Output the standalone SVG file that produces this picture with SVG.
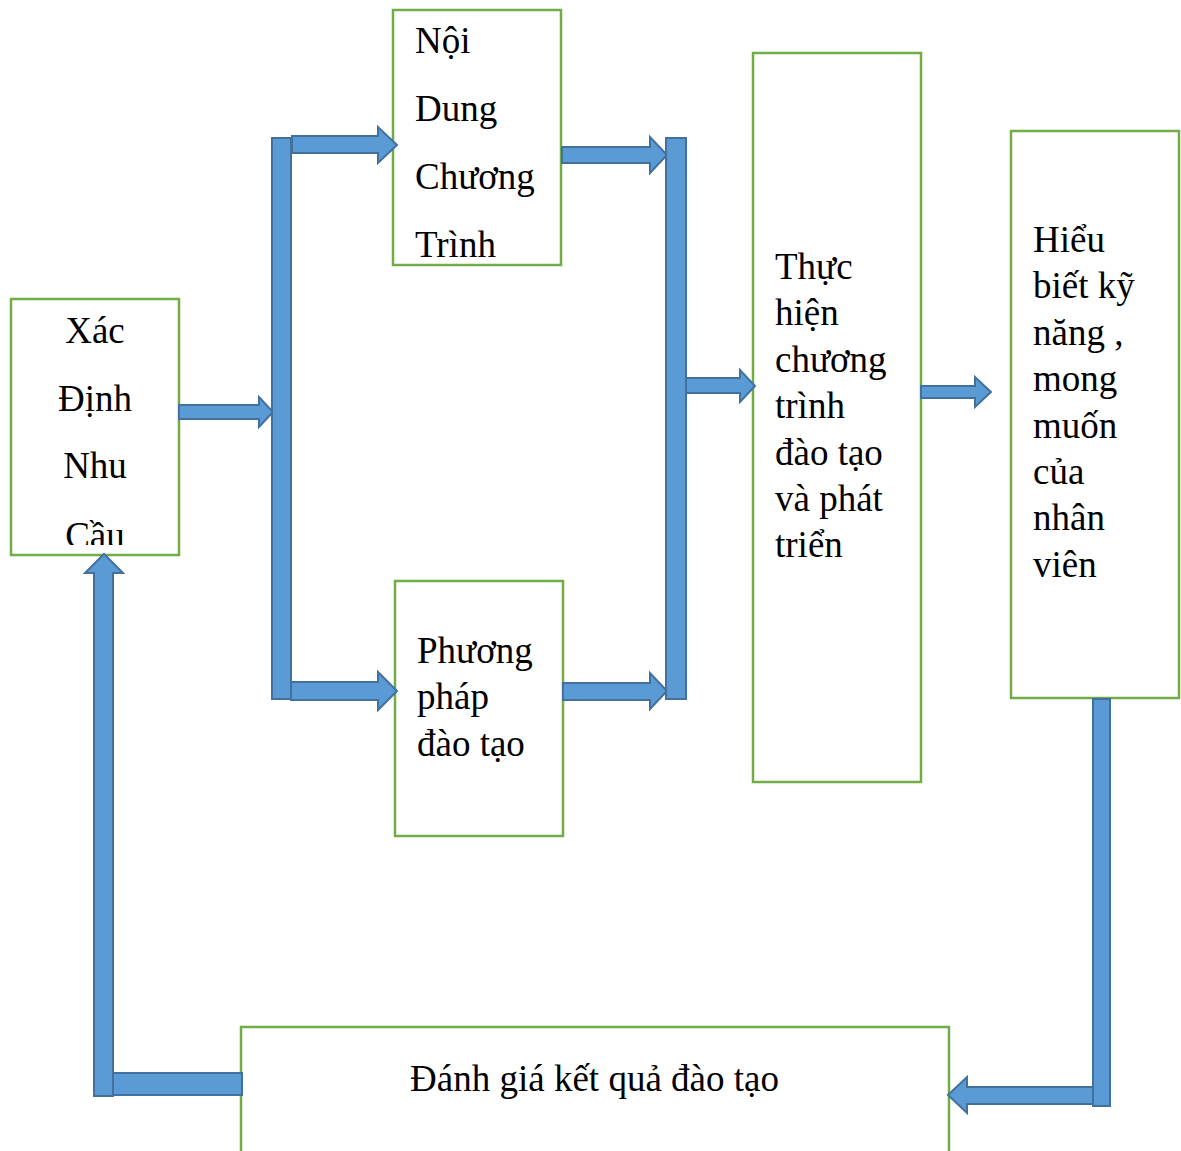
<svg xmlns="http://www.w3.org/2000/svg" width="1181" height="1151" viewBox="0 0 1181 1151">
<style>
.box{fill:#FFFFFF;stroke:#70AD47;stroke-width:2.5}
.t{font-family:"Liberation Serif","Times New Roman","DejaVu Serif",serif;font-size:37px;fill:#000000}
.c{text-anchor:middle}
.arr{fill:#5B9BD5;stroke:#41719C;stroke-width:2;stroke-linejoin:miter}
</style>
<defs>
<clipPath id="clipXac"><rect x="11" y="299" width="168" height="246"/></clipPath>
<clipPath id="clipNoi"><rect x="393" y="10" width="168" height="248"/></clipPath>
</defs>
<rect width="1181" height="1151" fill="#FFFFFF"/>
<g id="node-xac-dinh">
<rect class="box" x="11" y="299" width="168" height="256"/>
<g clip-path="url(#clipXac)">
<text class="t c" x="95" y="343">Xác</text>
<text class="t c" x="95" y="410.5">Định</text>
<text class="t c" x="95" y="478">Nhu</text>
<text class="t c" x="95" y="548">Cầu</text>
</g>
</g>
<g id="node-noi-dung">
<rect class="box" x="393" y="10" width="168" height="255"/>
<g clip-path="url(#clipNoi)">
<text class="t" x="415" y="53">Nội</text>
<text class="t" x="415" y="121">Dung</text>
<text class="t" x="415" y="189">Chương</text>
<text class="t" x="415" y="257">Trình</text>
</g>
</g>
<g id="node-phuong-phap">
<rect class="box" x="395" y="581" width="168" height="255"/>
<text class="t" x="417" y="663">Phương</text>
<text class="t" x="417" y="709">pháp</text>
<text class="t" x="417" y="756">đào tạo</text>
</g>
<g id="node-thuc-hien">
<rect class="box" x="753" y="53" width="168" height="729"/>
<text class="t" x="775" y="279">Thực</text>
<text class="t" x="775" y="325.4">hiện</text>
<text class="t" x="775" y="371.8">chương</text>
<text class="t" x="775" y="418.2">trình</text>
<text class="t" x="775" y="464.6">đào tạo</text>
<text class="t" x="775" y="511">và phát</text>
<text class="t" x="775" y="557.4">triển</text>
</g>
<g id="node-hieu-biet">
<rect class="box" x="1011" y="131" width="168" height="567"/>
<text class="t" x="1033" y="252">Hiểu</text>
<text class="t" x="1033" y="298.4">biết kỹ</text>
<text class="t" x="1033" y="344.8">năng ,</text>
<text class="t" x="1033" y="391.2">mong</text>
<text class="t" x="1033" y="437.6">muốn</text>
<text class="t" x="1033" y="484">của</text>
<text class="t" x="1033" y="530.4">nhân</text>
<text class="t" x="1033" y="576.8">viên</text>
</g>
<g id="node-danh-gia">
<rect class="box" x="241" y="1027" width="708" height="140"/>
<text class="t c" x="594.5" y="1091">Đánh giá kết quả đào tạo</text>
</g>
<g id="connectors">
<polygon class="arr" points="179,405 259,405 259,397 273,412 259,427 259,419 179,419"/>
<rect class="arr" x="272" y="138" width="19" height="561"/>
<polygon class="arr" points="292,136 378,136 378,127 397,145 378,163 378,153 292,153"/>
<polygon class="arr" points="291,682 378,682 378,672 397,691 378,710 378,700 291,700"/>
<polygon class="arr" points="562,147 650,147 650,137 667,155 650,173 650,163 562,163"/>
<polygon class="arr" points="563,683 650,683 650,673 667,691 650,709 650,700 563,700"/>
<rect class="arr" x="666" y="138" width="20" height="561"/>
<polygon class="arr" points="686,378 740,378 740,370 755,386 740,402 740,393 686,393"/>
<polygon class="arr" points="921,386 975,386 975,377 991,392 975,407 975,398 921,398"/>
<rect class="arr" x="1093" y="699" width="17" height="407"/>
<polygon class="arr" points="1093,1087 967,1087 967,1077 948,1095 967,1113 967,1104 1093,1104"/>
<rect class="arr" x="113" y="1073" width="129" height="22"/>
<polygon class="arr" points="94,1096 94,573 85,573 104,554 123,573 113,573 113,1096"/>
</g>
</svg>
